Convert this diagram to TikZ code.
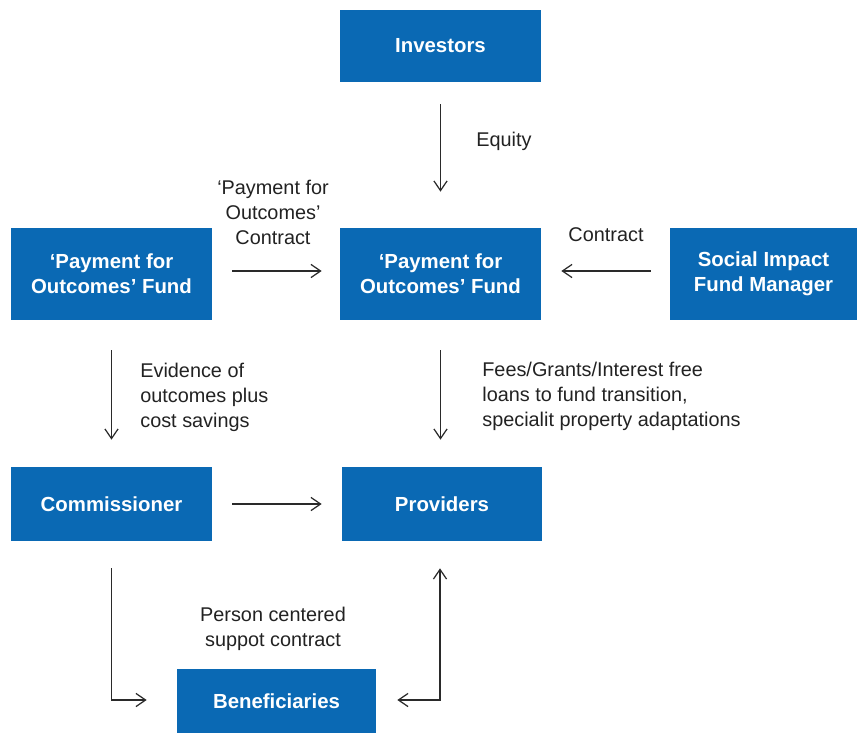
\documentclass[tikz,border=0pt]{standalone}
\usepackage{fontspec}
\setmainfont{Liberation Sans}
\usetikzlibrary{arrows.meta}
\definecolor{boxblue}{HTML}{0A69B4}
\definecolor{ink}{HTML}{222222}
\definecolor{wire}{HTML}{2A2A2A}
\begin{document}
\begin{tikzpicture}[x=0.02cm, y=-0.02cm,
    font=\fontsize{11.3}{14.2}\selectfont, text=ink,
    box/.style={fill=boxblue, text=white, font=\fontsize{11.6}{14.2}\selectfont\bfseries,
      align=center, inner sep=0pt, minimum width=4.02cm},
    lbl/.style={inner sep=0pt},
    flow/.style={draw=wire, line width=0.7pt, -{Straight Barb[length=5.5pt, width=7.5pt]}},
    bothflow/.style={flow, {Straight Barb[length=5.5pt, width=7.5pt]}-{Straight Barb[length=5.5pt, width=7.5pt]}}]
    \useasboundingbox (0, 0) rectangle (858, 734);
    \node[box, minimum height=1.44cm] (inv) at (440.5, 46) {Investors};
    \node[box, minimum height=1.84cm] (pfol) at (111.5, 274) {‘Payment for\\Outcomes’ Fund};
    \node[box, minimum height=1.84cm] (pfoc) at (440.5, 274) {‘Payment for\\Outcomes’ Fund};
    \node[box, minimum height=1.84cm, minimum width=3.74cm] (sifm) at (763.5, 274) {Social Impact\\Fund Manager};
    \node[box, minimum height=1.48cm] (comm) at (111.5, 504) {Commissioner};
    \node[box, minimum height=1.48cm, minimum width=4cm] (prov) at (442, 504) {Providers};
    \node[box, minimum height=1.28cm, minimum width=3.98cm] (ben) at (276.5, 701) {Beneficiaries};

    \draw[flow, shorten <=0.44cm, shorten >=0.72cm] (inv) -- (pfoc);
    \draw[flow, shorten <=0.4cm, shorten >=0.36cm] ([yshift=0.06cm]pfol.east) -- ([yshift=0.06cm]pfoc.west);
    \draw[flow, shorten <=0.38cm, shorten >=0.4cm] ([yshift=0.06cm]sifm.west) -- ([yshift=0.06cm]pfoc.east);
    \draw[flow, shorten <=0.6cm, shorten >=0.54cm] (pfol.south) -- (comm.north);
    \draw[flow, shorten <=0.6cm, shorten >=0.54cm] (pfoc.south) -- (pfoc.south |- prov.north);
    \draw[flow, shorten <=0.4cm, shorten >=0.4cm] (comm) -- (prov);
    \draw[flow, shorten <=0.54cm, shorten >=0.6cm] (comm.south) |- ([yshift=0.02cm]ben.west);
    \draw[bothflow, shorten <=0.42cm, shorten >=0.54cm] ([yshift=0.02cm]ben.east) -| ([xshift=-0.04cm]prov.south);

    \node[lbl, anchor=west] (equity) at (476, 141) {Equity};
    \node[align=center] (pfolbl) at (273, 212) {‘Payment for\\Outcomes’\\Contract};
    \node (contract) at (606, 235) {Contract};
    \node[lbl, anchor=west, align=left] (evid) at (140, 397) {Evidence of\\outcomes plus\\cost savings};
    \node[lbl, anchor=west, align=left] (fees) at (482, 396.5) {Fees/Grants/Interest free\\loans to fund transition,\\specialit property adaptations};
    \node[align=center] (person) at (273, 629) {Person centered\\suppot contract};
\end{tikzpicture}
\end{document}
